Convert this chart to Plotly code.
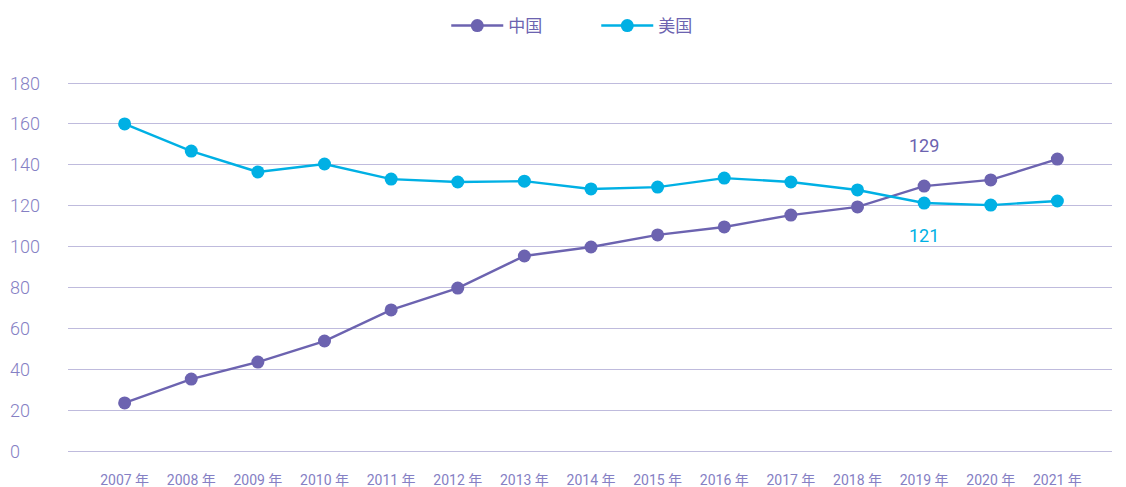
import plotly.graph_objects as go

years = ["2007 年", "2008 年", "2009 年", "2010 年", "2011 年", "2012 年", "2013 年",
         "2014 年", "2015 年", "2016 年", "2017 年", "2018 年", "2019 年", "2020 年", "2021 年"]
china = [23.5, 35.2, 43.5, 53.8, 69, 79.7, 95.4, 99.8, 105.7, 109.6, 115.4, 119.4, 129.6, 132.6, 142.8]
usa = [160, 146.7, 136.5, 140.4, 133, 131.6, 132, 128.2, 129.1, 133.5, 131.6, 127.7, 121.3, 120.3, 122.3]
y_ticks = [0, 20, 40, 60, 80, 100, 120, 140, 160, 180]

PURPLE = "#6C63B0"
CYAN = "#00B0E4"
GRID = "#BFBBDD"
LABEL = "#8580C4"
FONT = "Roboto, Noto Sans CJK SC, sans-serif"

fig = go.Figure()
fig.add_trace(go.Scatter(x=list(range(len(years))), y=china, name="中国", mode="lines+markers",
                         line=dict(color=PURPLE, width=2.4), marker=dict(size=13, color=PURPLE)))
fig.add_trace(go.Scatter(x=list(range(len(years))), y=usa, name="美国", mode="lines+markers",
                         line=dict(color=CYAN, width=2.4), marker=dict(size=13, color=CYAN)))

annotations = []
for t in y_ticks:
    annotations.append(dict(x=0, xref="paper", xshift=-60, y=t, yref="y", text=str(t),
                            showarrow=False, xanchor="left", yanchor="middle",
                            font=dict(family=FONT, size=18, color=LABEL, weight=300)))
annotations.append(dict(x=12, y=china[12], xref="x", yref="y", text="129", showarrow=False,
                        yshift=41, font=dict(family=FONT, size=18, color=PURPLE)))
annotations.append(dict(x=12, y=usa[12], xref="x", yref="y", text="121", showarrow=False,
                        yshift=-32, font=dict(family=FONT, size=18, color=CYAN)))

fig.update_layout(
    width=1118, height=479,
    margin=dict(l=60, r=14, t=73, b=36, autoexpand=False),
    plot_bgcolor="white", paper_bgcolor="white",
    font=dict(family=FONT, color=LABEL),
    showlegend=True,
    legend=dict(orientation="h", x=0.506, xanchor="center", y=1, yref="container", yanchor="top",
                font=dict(family=FONT, size=17, color=PURPLE), entrywidth=83, itemwidth=52),
    xaxis=dict(range=[-0.85, 14.82], tickmode="array", tickvals=list(range(len(years))),
               ticktext=years, showgrid=False, zeroline=False, showline=True,
               linecolor=GRID, linewidth=1, ticks="outside", ticklen=16, tickcolor="rgba(0,0,0,0)",
               tickfont=dict(family=FONT, size=14, color=LABEL), automargin=False),
    yaxis=dict(range=[0, 181], tickvals=y_ticks, showticklabels=False, showgrid=True,
               gridcolor=GRID, gridwidth=1, zeroline=False, automargin=False),
    annotations=annotations,
)
fig.write_html("out.html")
